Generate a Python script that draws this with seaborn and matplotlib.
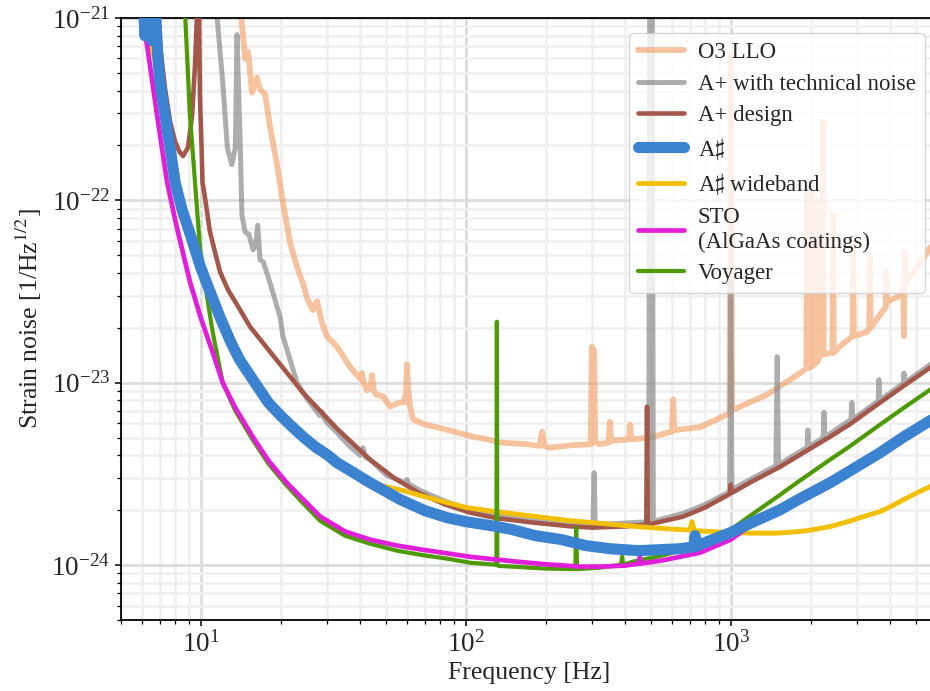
import numpy as np
import pandas as pd
import matplotlib
matplotlib.use("Agg")
import matplotlib.pyplot as plt
import matplotlib.ticker as mticker
import seaborn as sns

# ---------------- data ----------------
o3_f = [14.0, 14.7, 15.1, 15.6, 16.3, 16.7, 17.5, 18.2, 19.4, 20.4, 21.7, 23.1, 24.3, 25.2, 26.5, 27.5,
        28.5, 29.9, 32.7, 36.6, 40.0, 40.6, 41.2, 42.4, 43.7, 44.3, 45.0, 46.0, 48.8, 51.8, 56.5, 58.5,
        59.5, 60.0, 60.5, 61.5, 63.3, 70, 77.8, 90, 104, 120, 135, 170, 190, 194, 198, 208, 254, 296,
        299, 305, 308, 321, 346, 350, 354, 413, 417, 421, 428, 495, 600, 606, 612, 766, 990, 1000, 1010,
        1018, 1370, 1826, 1930, 1941, 1952, 1965, 1975, 1985, 2000, 2010, 2020, 2050, 2060, 2070, 2100,
        2110, 2120, 2173, 2215, 2228, 2241, 2300, 2420, 2432, 2444, 2600, 2880, 2893, 2906, 3266, 3330,
        3350, 3370, 3840, 3855, 3870, 3894, 4352, 4480, 4500, 4520, 4540, 4560, 5000, 5650, 6000]
o3_h = [1.3e-21, 6.0e-22, 6.5e-22, 3.9e-22, 4.7e-22, 4.1e-22, 3.8e-22, 2.6e-22, 1.57e-22, 9.8e-23,
        5.9e-23, 4.3e-23, 3.5e-23, 2.9e-23, 2.5e-23, 2.8e-23, 2.2e-23, 1.8e-23, 1.57e-23, 1.22e-23,
        1.05e-23, 1.13e-23, 1.0e-23, 9.1e-24, 9.5e-24, 1.1e-23, 9.0e-24, 8.6e-24, 8.4e-24, 7.4e-24,
        7.8e-24, 7.8e-24, 9.0e-24, 1.26e-23, 9.5e-24, 7.5e-24, 6.3e-24, 5.9e-24, 5.7e-24, 5.4e-24,
        5.1e-24, 4.9e-24, 4.7e-24, 4.6e-24, 4.5e-24, 5.4e-24, 4.5e-24, 4.4e-24, 4.55e-24, 4.6e-24,
        1.57e-23, 1.5e-23, 4.7e-24, 4.6e-24, 4.7e-24, 6.1e-24, 4.8e-24, 4.9e-24, 5.9e-24, 4.9e-24,
        4.9e-24, 5.0e-24, 5.4e-24, 8.1e-24, 5.5e-24, 5.7e-24, 6.8e-24, 6.3e-22, 7.0e-24, 7.1e-24,
        8.6e-24, 1.13e-23, 1.2e-23, 1.17e-22, 1.2e-23, 1.2e-23, 1.0e-22, 1.22e-23, 1.22e-23, 1.1e-22,
        1.23e-23, 1.25e-23, 9.0e-23, 1.27e-23, 1.3e-23, 1.0e-22, 1.3e-23, 1.42e-23, 1.43e-23, 2.7e-22,
        1.44e-23, 1.44e-23, 1.46e-23, 8.3e-23, 1.46e-23, 1.6e-23, 1.8e-23, 5.9e-23, 1.8e-23, 1.9e-23,
        2.0e-23, 4.8e-23, 2.0e-23, 2.6e-23, 4.1e-23, 2.7e-23, 2.78e-23, 3.0e-23, 3.3e-23, 1.8e-23,
        3.4e-23, 5.2e-23, 3.5e-23, 4.2e-23, 5.5e-23, 6.0e-23]

aplus_tech_f = [11.2, 11.5, 12.1, 12.6, 13.1, 13.5, 13.7, 13.8, 14.1, 14.3, 14.7, 15.2, 15.74, 16.1, 16.4,
                16.74, 17.2, 18.25, 19.91, 20.43, 21.15, 23.08, 25.18, 26.52, 28.1, 28.68, 29.3, 29.95,
                32.67, 36.58, 40.0, 40.95, 41.8, 43.5, 50.4, 59, 60, 61, 67.2, 83.5, 103.8, 130, 180, 250,
                302, 305, 308, 400, 490, 495, 505, 510, 661, 800, 990, 1000, 1010, 1200, 1480, 1497, 1514,
                1800, 1940, 1954, 1968, 2230, 2248, 2266, 2371, 2840, 2864, 2888, 3600, 3622, 3644, 4480,
                4505, 4530, 5650, 6000]
aplus_tech_h = [1.5e-21, 1.04e-21, 4.46e-22, 1.94e-22, 1.57e-22, 1.94e-22, 8.1e-22, 5.5e-22, 1.94e-22,
                8.3e-23, 6.7e-23, 6.5e-23, 5.36e-23, 5.6e-23, 7.3e-23, 4.72e-23, 4.6e-23, 3.53e-23,
                2.30e-23, 1.79e-23, 1.52e-23, 1.0e-23, 8.17e-24, 7.39e-24, 6.6e-24, 6.9e-24, 6.3e-24,
                6.04e-24, 5.32e-24, 4.46e-24, 4.0e-24, 4.40e-24, 3.9e-24, 3.79e-24, 3.1e-24, 2.83e-24,
                2.94e-24, 2.78e-24, 2.57e-24, 2.24e-24, 2.02e-24, 1.88e-24, 1.78e-24, 1.70e-24, 1.67e-24,
                3.21e-24, 1.67e-24, 1.70e-24, 1.73e-24, 3e-21, 3e-21, 1.74e-24, 1.92e-24, 2.15e-24,
                2.53e-24, 3.6e-23, 2.6e-24, 2.98e-24, 3.5e-24, 1.39e-23, 3.55e-24, 4.14e-24, 4.42e-24,
                5.5e-24, 4.45e-24, 4.99e-24, 6.9e-24, 5.0e-24, 5.26e-24, 6.29e-24, 7.8e-24, 6.3e-24,
                7.95e-24, 1.04e-23, 8.0e-24, 9.93e-24, 1.13e-23, 1.0e-23, 1.256e-23, 1.34e-23]

aplus_f = [6.7, 7.33, 7.66, 8.0, 8.3, 8.57, 8.95, 9.27, 9.51, 9.68, 9.76, 9.85, 9.93, 10.07, 10.15, 10.38,
           10.83, 11.31, 11.82, 12.67, 13.70, 15.34, 18.25, 24.31, 32.67, 43.5, 54.1, 67.2, 83.5, 103.8,
           130, 180, 250, 300, 400, 480, 483, 486, 661, 800, 990, 1000, 1010, 1200, 1535, 1800, 2371,
           2800, 3656, 4500, 5650, 6000]
aplus_h = [1.3e-21, 4.1e-22, 2.7e-22, 2.1e-22, 1.85e-22, 1.75e-22, 1.95e-22, 2.9e-22, 5.5e-22, 1.05e-21,
           2.0e-21, 1.05e-21, 3.64e-22, 1.94e-22, 1.26e-22, 1.03e-22, 6.72e-23, 5.22e-23, 4.06e-23,
           3.23e-23, 2.68e-23, 2.03e-23, 1.48e-23, 8.81e-24, 5.60e-24, 3.79e-24, 2.98e-24, 2.47e-24,
           2.15e-24, 1.94e-24, 1.81e-24, 1.71e-24, 1.63e-24, 1.605e-24, 1.63e-24, 1.667e-24, 7.39e-24,
           1.667e-24, 1.845e-24, 2.07e-24, 2.45e-24, 2.76e-24, 2.49e-24, 2.87e-24, 3.46e-24, 3.98e-24,
           5.06e-24, 5.89e-24, 7.77e-24, 9.63e-24, 1.208e-23, 1.287e-23]

asharp_f = [6.0, 6.15, 6.35, 6.55, 6.75, 6.9, 7.01, 7.33, 7.66, 8.0, 8.5, 9.27, 10, 11.8, 13, 14, 16, 18,
            20, 22, 24.3, 27, 30, 32.7, 37, 43.5, 50, 56.5, 70, 85, 100, 130, 150, 183, 230, 283, 350,
            450, 540, 643, 725, 733, 741, 800, 1000, 1200, 1535, 1800, 2371, 2800, 3656, 4500, 5650, 6000]
asharp_h = [2.0e-21, 8.0e-22, 1.5e-21, 7.5e-22, 1.1e-21, 5.8e-22, 4.46e-22, 2.94e-22, 1.94e-22, 1.26e-22,
            8.87e-23, 6.07e-23, 4.27e-23, 2.30e-23, 1.66e-23, 1.34e-23, 1.0e-23, 7.77e-24, 6.60e-24,
            5.78e-24, 5.06e-24, 4.46e-24, 4.03e-24, 3.64e-24, 3.27e-24, 2.83e-24, 2.53e-24, 2.29e-24,
            1.99e-24, 1.82e-24, 1.73e-24, 1.63e-24, 1.565e-24, 1.45e-24, 1.38e-24, 1.28e-24, 1.23e-24,
            1.20e-24, 1.215e-24, 1.23e-24, 1.26e-24, 1.45e-24, 1.27e-24, 1.33e-24, 1.51e-24, 1.71e-24,
            2.01e-24, 2.29e-24, 2.83e-24, 3.27e-24, 4.13e-24, 5.06e-24, 6.19e-24, 6.51e-24]

wide_f = [6.0, 7.01, 8.0, 10, 11.8, 13, 16, 20, 24.3, 30, 35, 40.9, 50, 56.5, 70, 85, 100, 130, 150, 200,
          250, 300, 400, 500, 600, 700, 714, 728, 850, 1000, 1200, 1500, 1800, 2000, 2371, 2800, 3000,
          3656, 4000, 4500, 5000, 5650, 6000]
wide_h = [1.2e-21, 4.4e-22, 1.24e-22, 4.2e-23, 2.26e-23, 1.63e-23, 9.9e-24, 6.5e-24, 5.0e-24, 3.98e-24,
          3.45e-24, 2.94e-24, 2.69e-24, 2.59e-24, 2.37e-24, 2.20e-24, 2.07e-24, 1.965e-24, 1.915e-24,
          1.82e-24, 1.75e-24, 1.71e-24, 1.646e-24, 1.605e-24, 1.575e-24, 1.555e-24, 1.73e-24, 1.545e-24,
          1.526e-24, 1.507e-24, 1.497e-24, 1.497e-24, 1.526e-24, 1.555e-24, 1.626e-24, 1.742e-24,
          1.80e-24, 1.965e-24, 2.09e-24, 2.29e-24, 2.48e-24, 2.69e-24, 2.83e-24]

sto_f = [5.9, 6.27, 6.84, 7.46, 8.13, 9.1, 10, 11, 12.1, 13.5, 15.7, 18, 21.1, 24, 28.2, 35, 43.5, 55,
         67.2, 85, 104, 150, 200, 270, 321, 400, 450, 454, 458, 550, 766, 1000, 1200, 1535, 2371, 3656,
         5650, 6000]
sto_h = [1.1e-21, 7.11e-22, 2.94e-22, 1.26e-22, 7.07e-23, 3.58e-23, 2.27e-23, 1.52e-23, 1.0e-23, 7.29e-24,
         5.06e-24, 3.74e-24, 2.83e-24, 2.34e-24, 1.85e-24, 1.53e-24, 1.38e-24, 1.28e-24, 1.22e-24,
         1.16e-24, 1.11e-24, 1.05e-24, 1.01e-24, 9.81e-25, 9.81e-25, 9.94e-25, 1.02e-24, 1.11e-24,
         1.02e-24, 1.06e-24, 1.17e-24, 1.38e-24, 1.67e-24, 1.99e-24, 2.73e-24, 3.98e-24, 5.96e-24, 6.27e-24]

voy_f = [8.6, 8.73, 9.1, 9.51, 9.93, 10.6, 11.1, 12.1, 13.5, 15.7, 18, 21.1, 24, 28.2, 35, 43.5, 55, 67.2,
         85, 104, 129, 130.5, 131, 131.5, 133, 150, 200, 255, 259, 261, 263, 267, 321, 385, 389, 393, 428,
         550, 766, 1000, 1200, 1535, 1800, 2371, 2800, 3656, 4500, 5650, 6000]
voy_h = [1.3e-21, 1.04e-21, 2.94e-22, 1.26e-22, 5.49e-23, 2.85e-23, 1.88e-23, 1.0e-23, 7.02e-24, 4.87e-24,
         3.60e-24, 2.73e-24, 2.23e-24, 1.75e-24, 1.45e-24, 1.31e-24, 1.20e-24, 1.14e-24, 1.085e-24,
         1.03e-24, 1.006e-24, 1.0e-24, 2.16e-23, 1.0e-24, 9.9e-25, 9.81e-25, 9.57e-25, 9.51e-25, 9.51e-25,
         1.6e-24, 9.51e-25, 9.51e-25, 9.69e-25, 1.005e-24, 1.113e-24, 1.005e-24, 1.045e-24, 1.127e-24,
         1.287e-24, 1.565e-24, 1.89e-24, 2.43e-24, 2.87e-24, 3.79e-24, 4.46e-24, 5.89e-24, 7.29e-24,
         9.15e-24, 9.75e-24]

labels = ["O3 LLO", "A+ with technical noise", "A+ design", r"A$\sharp$", r"A$\sharp$ wideband",
          "STO\n(AlGaAs coatings)", "Voyager"]
x_major_ticks = [10, 100, 1000]
y_major_ticks = [1e-24, 1e-23, 1e-22, 1e-21]

# ---------------- style ----------------
sns.set_style("ticks")
plt.rcParams["font.family"] = ["Liberation Serif", "DejaVu Serif"]
plt.rcParams["mathtext.fontset"] = "stix"

fig = plt.figure(figsize=(9.3, 6.91), dpi=100)
ax = fig.add_axes([121 / 930, 71 / 691, (937 - 121) / 930, (620 - 18) / 691])
ax.set_xscale("log")
ax.set_yscale("log")

series = [
    (o3_f, o3_h, "#F4A46C", 4.2, 0.65, 1),
    (aplus_tech_f, aplus_tech_h, "#8A8A8A", 3.6, 0.7, 2),
    (aplus_f, aplus_h, "#A3574A", 3.3, 1.0, 3),
    (asharp_f, asharp_h, "#3B83D1", 8.0, 1.0, 7),
    (wide_f, wide_h, "#F3C000", 3.5, 1.0, 4),
    (sto_f, sto_h, "#E11FD9", 3.4, 1.0, 6),
    (voy_f, voy_h, "#4D9A05", 3.0, 1.0, 5),
]

handles = []
for (f, h, c, lw, a, z), lab in zip(series, labels):
    df = pd.DataFrame({"f": f, "h": h})
    sns.lineplot(data=df, x="f", y="h", ax=ax, color=c, lw=lw, alpha=a, sort=False,
                 estimator=None, zorder=z, legend=False)
    handles.append(ax.lines[-1])

ax.set_xlim(5, 6000)
ax.set_ylim(5e-25, 1e-21)
ax.xaxis.set_major_locator(mticker.FixedLocator(x_major_ticks))
ax.yaxis.set_major_locator(mticker.FixedLocator(y_major_ticks))
ax.xaxis.set_major_formatter(mticker.LogFormatterSciNotation())
ax.yaxis.set_major_formatter(mticker.LogFormatterSciNotation())
ax.xaxis.set_minor_locator(mticker.LogLocator(base=10, subs=np.arange(2, 10), numticks=20))
ax.yaxis.set_minor_locator(mticker.LogLocator(base=10, subs=np.arange(2, 10), numticks=20))
ax.xaxis.set_minor_formatter(mticker.NullFormatter())
ax.yaxis.set_minor_formatter(mticker.NullFormatter())

ax.set_axisbelow(True)
ax.grid(which="major", color="#dcdcdc", lw=2.0)
ax.grid(which="minor", color="#f0f0f0", lw=2.0)

for s in ["top", "left", "bottom"]:
    ax.spines[s].set_color("black")
    ax.spines[s].set_linewidth(1.3)
ax.spines["right"].set_visible(False)

ax.tick_params(which="major", direction="out", length=4.5, width=1.1, labelsize=19.5, color="black")
ax.tick_params(which="minor", direction="out", length=3, width=0.9, color="black")
ax.tick_params(axis="both", which="both", top=False, right=False)

ax.set_xlabel("Frequency [Hz]", fontsize=18.5, labelpad=3)
ax.set_ylabel(r"Strain noise [1/Hz$^{1/2}$]", fontsize=18.5, labelpad=5)

leg = ax.legend(handles, labels, loc="upper right", bbox_to_anchor=(925 / 930, 1 - 33 / 691),
                bbox_transform=fig.transFigure, borderaxespad=0, fontsize=16.5, framealpha=0.8,
                edgecolor="#cccccc", fancybox=True, handletextpad=0.6, labelspacing=0.45)
leg.set_zorder(20)

fig.savefig("out.png", dpi=100)
